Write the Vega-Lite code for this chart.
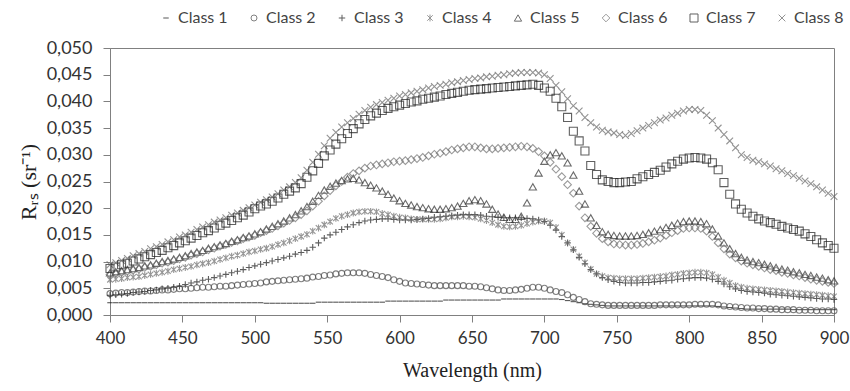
{
"$schema":"https://vega.github.io/schema/vega-lite/v6.json",
"width":724,"height":267,
"autosize":{"type":"none"},
"padding":{"left":110,"top":48,"right":16,"bottom":76},
"background":"white",
"config":{
"locale":{"number":{"decimal":",","thousands":".","grouping":[3],"currency":["","€"]}},
"view":{"stroke":"#808080","strokeWidth":1},
"axis":{"domainColor":"#808080","tickColor":"#808080","grid":false,"labelFont":"Lato","labelFontSize":17,"labelColor":"#333333","titleFont":"Liberation Serif, Times New Roman, serif","titleFontSize":20,"titleFontWeight":"normal","titleColor":"#222222","tickSize":7,"labelFlush":false}
},
"data":{"values":[
{"w":400,"c1":0.0023,"c2":0.0040,"c3":0.0037,"c4":0.0066,"c5":0.0079,"c6":0.0076,"c7":0.0087,"c8":0.0094},
{"w":404,"c1":0.0023,"c2":0.0041,"c3":0.0038,"c4":0.0067,"c5":0.0081,"c6":0.0078,"c7":0.0090,"c8":0.0098},
{"w":408,"c1":0.0023,"c2":0.0042,"c3":0.0039,"c4":0.0068,"c5":0.0083,"c6":0.0080,"c7":0.0094,"c8":0.0102},
{"w":412,"c1":0.0023,"c2":0.0042,"c3":0.0040,"c4":0.0070,"c5":0.0085,"c6":0.0082,"c7":0.0097,"c8":0.0106},
{"w":416,"c1":0.0023,"c2":0.0043,"c3":0.0042,"c4":0.0071,"c5":0.0087,"c6":0.0084,"c7":0.0101,"c8":0.0111},
{"w":420,"c1":0.0023,"c2":0.0044,"c3":0.0043,"c4":0.0072,"c5":0.0089,"c6":0.0086,"c7":0.0105,"c8":0.0115},
{"w":424,"c1":0.0023,"c2":0.0045,"c3":0.0044,"c4":0.0074,"c5":0.0092,"c6":0.0089,"c7":0.0109,"c8":0.0119},
{"w":428,"c1":0.0023,"c2":0.0045,"c3":0.0046,"c4":0.0076,"c5":0.0094,"c6":0.0091,"c7":0.0113,"c8":0.0124},
{"w":432,"c1":0.0023,"c2":0.0046,"c3":0.0047,"c4":0.0078,"c5":0.0097,"c6":0.0094,"c7":0.0117,"c8":0.0128},
{"w":436,"c1":0.0023,"c2":0.0047,"c3":0.0049,"c4":0.0080,"c5":0.0100,"c6":0.0097,"c7":0.0121,"c8":0.0132},
{"w":440,"c1":0.0023,"c2":0.0047,"c3":0.0050,"c4":0.0082,"c5":0.0102,"c6":0.0099,"c7":0.0126,"c8":0.0137},
{"w":444,"c1":0.0023,"c2":0.0048,"c3":0.0052,"c4":0.0085,"c5":0.0105,"c6":0.0102,"c7":0.0130,"c8":0.0141},
{"w":448,"c1":0.0023,"c2":0.0049,"c3":0.0054,"c4":0.0087,"c5":0.0108,"c6":0.0105,"c7":0.0135,"c8":0.0146},
{"w":452,"c1":0.0023,"c2":0.0049,"c3":0.0057,"c4":0.0089,"c5":0.0111,"c6":0.0108,"c7":0.0139,"c8":0.0150},
{"w":456,"c1":0.0023,"c2":0.0050,"c3":0.0060,"c4":0.0091,"c5":0.0115,"c6":0.0112,"c7":0.0144,"c8":0.0155},
{"w":460,"c1":0.0023,"c2":0.0051,"c3":0.0062,"c4":0.0094,"c5":0.0118,"c6":0.0115,"c7":0.0149,"c8":0.0160},
{"w":464,"c1":0.0023,"c2":0.0052,"c3":0.0065,"c4":0.0096,"c5":0.0121,"c6":0.0118,"c7":0.0154,"c8":0.0165},
{"w":468,"c1":0.0023,"c2":0.0052,"c3":0.0067,"c4":0.0098,"c5":0.0125,"c6":0.0122,"c7":0.0158,"c8":0.0169},
{"w":472,"c1":0.0023,"c2":0.0053,"c3":0.0070,"c4":0.0101,"c5":0.0128,"c6":0.0125,"c7":0.0163,"c8":0.0174},
{"w":476,"c1":0.0023,"c2":0.0054,"c3":0.0073,"c4":0.0104,"c5":0.0131,"c6":0.0129,"c7":0.0168,"c8":0.0178},
{"w":480,"c1":0.0023,"c2":0.0054,"c3":0.0076,"c4":0.0107,"c5":0.0134,"c6":0.0132,"c7":0.0172,"c8":0.0182},
{"w":484,"c1":0.0023,"c2":0.0055,"c3":0.0079,"c4":0.0110,"c5":0.0138,"c6":0.0136,"c7":0.0177,"c8":0.0187},
{"w":488,"c1":0.0023,"c2":0.0056,"c3":0.0082,"c4":0.0112,"c5":0.0141,"c6":0.0139,"c7":0.0182,"c8":0.0191},
{"w":492,"c1":0.0023,"c2":0.0057,"c3":0.0085,"c4":0.0115,"c5":0.0145,"c6":0.0143,"c7":0.0187,"c8":0.0196},
{"w":496,"c1":0.0023,"c2":0.0058,"c3":0.0089,"c4":0.0118,"c5":0.0148,"c6":0.0146,"c7":0.0193,"c8":0.0201},
{"w":500,"c1":0.0023,"c2":0.0059,"c3":0.0092,"c4":0.0120,"c5":0.0152,"c6":0.0149,"c7":0.0199,"c8":0.0206},
{"w":504,"c1":0.0023,"c2":0.0060,"c3":0.0095,"c4":0.0123,"c5":0.0156,"c6":0.0154,"c7":0.0204,"c8":0.0211},
{"w":508,"c1":0.0022,"c2":0.0062,"c3":0.0098,"c4":0.0125,"c5":0.0161,"c6":0.0158,"c7":0.0208,"c8":0.0216},
{"w":512,"c1":0.0022,"c2":0.0063,"c3":0.0101,"c4":0.0128,"c5":0.0166,"c6":0.0162,"c7":0.0213,"c8":0.0221},
{"w":516,"c1":0.0022,"c2":0.0064,"c3":0.0104,"c4":0.0132,"c5":0.0171,"c6":0.0167,"c7":0.0219,"c8":0.0227},
{"w":520,"c1":0.0022,"c2":0.0065,"c3":0.0107,"c4":0.0135,"c5":0.0176,"c6":0.0172,"c7":0.0226,"c8":0.0234},
{"w":524,"c1":0.0022,"c2":0.0066,"c3":0.0110,"c4":0.0139,"c5":0.0182,"c6":0.0177,"c7":0.0232,"c8":0.0240},
{"w":528,"c1":0.0022,"c2":0.0067,"c3":0.0114,"c4":0.0143,"c5":0.0188,"c6":0.0182,"c7":0.0238,"c8":0.0248},
{"w":532,"c1":0.0022,"c2":0.0068,"c3":0.0117,"c4":0.0147,"c5":0.0195,"c6":0.0188,"c7":0.0246,"c8":0.0257},
{"w":536,"c1":0.0022,"c2":0.0069,"c3":0.0121,"c4":0.0151,"c5":0.0203,"c6":0.0195,"c7":0.0258,"c8":0.0271},
{"w":540,"c1":0.0022,"c2":0.0071,"c3":0.0127,"c4":0.0157,"c5":0.0213,"c6":0.0204,"c7":0.0270,"c8":0.0286},
{"w":544,"c1":0.0024,"c2":0.0072,"c3":0.0135,"c4":0.0163,"c5":0.0224,"c6":0.0213,"c7":0.0284,"c8":0.0301},
{"w":548,"c1":0.0024,"c2":0.0074,"c3":0.0144,"c4":0.0169,"c5":0.0234,"c6":0.0223,"c7":0.0298,"c8":0.0317},
{"w":552,"c1":0.0024,"c2":0.0075,"c3":0.0150,"c4":0.0175,"c5":0.0241,"c6":0.0233,"c7":0.0309,"c8":0.0331},
{"w":556,"c1":0.0024,"c2":0.0077,"c3":0.0155,"c4":0.0181,"c5":0.0247,"c6":0.0242,"c7":0.0320,"c8":0.0342},
{"w":560,"c1":0.0024,"c2":0.0078,"c3":0.0160,"c4":0.0185,"c5":0.0252,"c6":0.0250,"c7":0.0330,"c8":0.0352},
{"w":564,"c1":0.0024,"c2":0.0079,"c3":0.0165,"c4":0.0188,"c5":0.0255,"c6":0.0258,"c7":0.0340,"c8":0.0360},
{"w":568,"c1":0.0024,"c2":0.0079,"c3":0.0169,"c4":0.0191,"c5":0.0256,"c6":0.0265,"c7":0.0349,"c8":0.0368},
{"w":572,"c1":0.0024,"c2":0.0079,"c3":0.0173,"c4":0.0193,"c5":0.0253,"c6":0.0270,"c7":0.0358,"c8":0.0376},
{"w":576,"c1":0.0024,"c2":0.0078,"c3":0.0176,"c4":0.0194,"c5":0.0248,"c6":0.0275,"c7":0.0366,"c8":0.0383},
{"w":580,"c1":0.0024,"c2":0.0076,"c3":0.0178,"c4":0.0194,"c5":0.0243,"c6":0.0279,"c7":0.0373,"c8":0.0389},
{"w":584,"c1":0.0024,"c2":0.0074,"c3":0.0179,"c4":0.0193,"c5":0.0238,"c6":0.0281,"c7":0.0378,"c8":0.0394},
{"w":588,"c1":0.0024,"c2":0.0072,"c3":0.0180,"c4":0.0190,"c5":0.0232,"c6":0.0283,"c7":0.0383,"c8":0.0398},
{"w":592,"c1":0.0026,"c2":0.0070,"c3":0.0180,"c4":0.0188,"c5":0.0226,"c6":0.0285,"c7":0.0387,"c8":0.0402},
{"w":596,"c1":0.0026,"c2":0.0066,"c3":0.0179,"c4":0.0185,"c5":0.0219,"c6":0.0287,"c7":0.0390,"c8":0.0406},
{"w":600,"c1":0.0026,"c2":0.0063,"c3":0.0178,"c4":0.0183,"c5":0.0214,"c6":0.0288,"c7":0.0393,"c8":0.0410},
{"w":604,"c1":0.0026,"c2":0.0060,"c3":0.0178,"c4":0.0182,"c5":0.0209,"c6":0.0289,"c7":0.0396,"c8":0.0413},
{"w":608,"c1":0.0026,"c2":0.0059,"c3":0.0178,"c4":0.0180,"c5":0.0206,"c6":0.0291,"c7":0.0399,"c8":0.0416},
{"w":612,"c1":0.0026,"c2":0.0058,"c3":0.0179,"c4":0.0179,"c5":0.0203,"c6":0.0293,"c7":0.0401,"c8":0.0419},
{"w":616,"c1":0.0026,"c2":0.0057,"c3":0.0180,"c4":0.0179,"c5":0.0201,"c6":0.0295,"c7":0.0404,"c8":0.0422},
{"w":620,"c1":0.0026,"c2":0.0056,"c3":0.0181,"c4":0.0179,"c5":0.0199,"c6":0.0298,"c7":0.0406,"c8":0.0425},
{"w":624,"c1":0.0026,"c2":0.0055,"c3":0.0183,"c4":0.0179,"c5":0.0198,"c6":0.0301,"c7":0.0408,"c8":0.0428},
{"w":628,"c1":0.0026,"c2":0.0055,"c3":0.0184,"c4":0.0180,"c5":0.0198,"c6":0.0303,"c7":0.0410,"c8":0.0430},
{"w":632,"c1":0.0028,"c2":0.0055,"c3":0.0185,"c4":0.0182,"c5":0.0199,"c6":0.0306,"c7":0.0413,"c8":0.0432},
{"w":636,"c1":0.0028,"c2":0.0055,"c3":0.0186,"c4":0.0184,"c5":0.0201,"c6":0.0309,"c7":0.0415,"c8":0.0435},
{"w":640,"c1":0.0028,"c2":0.0055,"c3":0.0187,"c4":0.0184,"c5":0.0204,"c6":0.0311,"c7":0.0417,"c8":0.0437},
{"w":644,"c1":0.0028,"c2":0.0055,"c3":0.0188,"c4":0.0185,"c5":0.0209,"c6":0.0313,"c7":0.0419,"c8":0.0439},
{"w":648,"c1":0.0028,"c2":0.0054,"c3":0.0188,"c4":0.0184,"c5":0.0214,"c6":0.0315,"c7":0.0421,"c8":0.0441},
{"w":652,"c1":0.0028,"c2":0.0054,"c3":0.0188,"c4":0.0183,"c5":0.0216,"c6":0.0315,"c7":0.0422,"c8":0.0443},
{"w":656,"c1":0.0028,"c2":0.0053,"c3":0.0187,"c4":0.0180,"c5":0.0214,"c6":0.0313,"c7":0.0423,"c8":0.0444},
{"w":660,"c1":0.0028,"c2":0.0051,"c3":0.0185,"c4":0.0177,"c5":0.0208,"c6":0.0311,"c7":0.0424,"c8":0.0446},
{"w":664,"c1":0.0028,"c2":0.0049,"c3":0.0184,"c4":0.0173,"c5":0.0198,"c6":0.0311,"c7":0.0425,"c8":0.0447},
{"w":668,"c1":0.0028,"c2":0.0047,"c3":0.0183,"c4":0.0169,"c5":0.0189,"c6":0.0312,"c7":0.0426,"c8":0.0449},
{"w":672,"c1":0.0030,"c2":0.0046,"c3":0.0182,"c4":0.0166,"c5":0.0183,"c6":0.0313,"c7":0.0427,"c8":0.0450},
{"w":676,"c1":0.0030,"c2":0.0046,"c3":0.0182,"c4":0.0165,"c5":0.0179,"c6":0.0314,"c7":0.0428,"c8":0.0452},
{"w":680,"c1":0.0030,"c2":0.0047,"c3":0.0182,"c4":0.0166,"c5":0.0179,"c6":0.0315,"c7":0.0429,"c8":0.0453},
{"w":684,"c1":0.0030,"c2":0.0048,"c3":0.0182,"c4":0.0168,"c5":0.0185,"c6":0.0316,"c7":0.0430,"c8":0.0454},
{"w":688,"c1":0.0030,"c2":0.0050,"c3":0.0181,"c4":0.0171,"c5":0.0210,"c6":0.0315,"c7":0.0431,"c8":0.0454},
{"w":692,"c1":0.0030,"c2":0.0052,"c3":0.0180,"c4":0.0174,"c5":0.0240,"c6":0.0312,"c7":0.0432,"c8":0.0454},
{"w":696,"c1":0.0030,"c2":0.0052,"c3":0.0178,"c4":0.0176,"c5":0.0266,"c6":0.0306,"c7":0.0430,"c8":0.0453},
{"w":700,"c1":0.0030,"c2":0.0050,"c3":0.0175,"c4":0.0176,"c5":0.0288,"c6":0.0298,"c7":0.0425,"c8":0.0450},
{"w":704,"c1":0.0030,"c2":0.0047,"c3":0.0168,"c4":0.0173,"c5":0.0300,"c6":0.0286,"c7":0.0419,"c8":0.0443},
{"w":708,"c1":0.0030,"c2":0.0044,"c3":0.0159,"c4":0.0164,"c5":0.0304,"c6":0.0273,"c7":0.0406,"c8":0.0430},
{"w":712,"c1":0.0029,"c2":0.0042,"c3":0.0147,"c4":0.0150,"c5":0.0298,"c6":0.0259,"c7":0.0390,"c8":0.0418},
{"w":716,"c1":0.0027,"c2":0.0038,"c3":0.0135,"c4":0.0135,"c5":0.0285,"c6":0.0244,"c7":0.0370,"c8":0.0405},
{"w":720,"c1":0.0025,"c2":0.0033,"c3":0.0122,"c4":0.0123,"c5":0.0262,"c6":0.0228,"c7":0.0344,"c8":0.0392},
{"w":724,"c1":0.0023,"c2":0.0029,"c3":0.0108,"c4":0.0110,"c5":0.0232,"c6":0.0204,"c7":0.0326,"c8":0.0382},
{"w":728,"c1":0.0021,"c2":0.0025,"c3":0.0096,"c4":0.0098,"c5":0.0208,"c6":0.0182,"c7":0.0307,"c8":0.0370},
{"w":732,"c1":0.0020,"c2":0.0021,"c3":0.0085,"c4":0.0086,"c5":0.0182,"c6":0.0166,"c7":0.0280,"c8":0.0360},
{"w":736,"c1":0.0019,"c2":0.0020,"c3":0.0077,"c4":0.0077,"c5":0.0168,"c6":0.0153,"c7":0.0263,"c8":0.0352},
{"w":740,"c1":0.0018,"c2":0.0019,"c3":0.0070,"c4":0.0073,"c5":0.0156,"c6":0.0143,"c7":0.0253,"c8":0.0346},
{"w":744,"c1":0.0017,"c2":0.0018,"c3":0.0066,"c4":0.0070,"c5":0.0151,"c6":0.0137,"c7":0.0250,"c8":0.0343},
{"w":748,"c1":0.0017,"c2":0.0018,"c3":0.0063,"c4":0.0069,"c5":0.0149,"c6":0.0133,"c7":0.0248,"c8":0.0341},
{"w":752,"c1":0.0017,"c2":0.0018,"c3":0.0061,"c4":0.0068,"c5":0.0148,"c6":0.0132,"c7":0.0248,"c8":0.0338},
{"w":756,"c1":0.0017,"c2":0.0018,"c3":0.0060,"c4":0.0068,"c5":0.0148,"c6":0.0131,"c7":0.0249,"c8":0.0336},
{"w":760,"c1":0.0017,"c2":0.0018,"c3":0.0060,"c4":0.0068,"c5":0.0148,"c6":0.0131,"c7":0.0250,"c8":0.0340},
{"w":764,"c1":0.0017,"c2":0.0018,"c3":0.0060,"c4":0.0068,"c5":0.0149,"c6":0.0132,"c7":0.0255,"c8":0.0345},
{"w":768,"c1":0.0017,"c2":0.0018,"c3":0.0061,"c4":0.0069,"c5":0.0151,"c6":0.0134,"c7":0.0259,"c8":0.0350},
{"w":772,"c1":0.0017,"c2":0.0018,"c3":0.0061,"c4":0.0070,"c5":0.0154,"c6":0.0137,"c7":0.0263,"c8":0.0355},
{"w":776,"c1":0.0017,"c2":0.0018,"c3":0.0062,"c4":0.0071,"c5":0.0157,"c6":0.0140,"c7":0.0267,"c8":0.0360},
{"w":780,"c1":0.0017,"c2":0.0019,"c3":0.0063,"c4":0.0072,"c5":0.0160,"c6":0.0144,"c7":0.0271,"c8":0.0365},
{"w":784,"c1":0.0017,"c2":0.0019,"c3":0.0064,"c4":0.0073,"c5":0.0164,"c6":0.0149,"c7":0.0277,"c8":0.0369},
{"w":788,"c1":0.0017,"c2":0.0019,"c3":0.0065,"c4":0.0075,"c5":0.0168,"c6":0.0154,"c7":0.0283,"c8":0.0374},
{"w":792,"c1":0.0017,"c2":0.0019,"c3":0.0067,"c4":0.0076,"c5":0.0172,"c6":0.0158,"c7":0.0288,"c8":0.0378},
{"w":796,"c1":0.0017,"c2":0.0019,"c3":0.0068,"c4":0.0078,"c5":0.0175,"c6":0.0162,"c7":0.0292,"c8":0.0382},
{"w":800,"c1":0.0017,"c2":0.0019,"c3":0.0069,"c4":0.0079,"c5":0.0176,"c6":0.0163,"c7":0.0294,"c8":0.0385},
{"w":804,"c1":0.0017,"c2":0.0020,"c3":0.0070,"c4":0.0080,"c5":0.0176,"c6":0.0163,"c7":0.0295,"c8":0.0385},
{"w":808,"c1":0.0017,"c2":0.0020,"c3":0.0070,"c4":0.0080,"c5":0.0175,"c6":0.0162,"c7":0.0294,"c8":0.0383},
{"w":812,"c1":0.0017,"c2":0.0020,"c3":0.0069,"c4":0.0079,"c5":0.0171,"c6":0.0157,"c7":0.0292,"c8":0.0374},
{"w":816,"c1":0.0017,"c2":0.0020,"c3":0.0067,"c4":0.0076,"c5":0.0161,"c6":0.0147,"c7":0.0285,"c8":0.0364},
{"w":820,"c1":0.0016,"c2":0.0019,"c3":0.0063,"c4":0.0071,"c5":0.0148,"c6":0.0135,"c7":0.0272,"c8":0.0350},
{"w":824,"c1":0.0015,"c2":0.0017,"c3":0.0058,"c4":0.0065,"c5":0.0135,"c6":0.0124,"c7":0.0248,"c8":0.0338},
{"w":828,"c1":0.0014,"c2":0.0016,"c3":0.0053,"c4":0.0060,"c5":0.0124,"c6":0.0114,"c7":0.0226,"c8":0.0326},
{"w":832,"c1":0.0013,"c2":0.0015,"c3":0.0049,"c4":0.0055,"c5":0.0115,"c6":0.0107,"c7":0.0208,"c8":0.0313},
{"w":836,"c1":0.0012,"c2":0.0014,"c3":0.0046,"c4":0.0052,"c5":0.0108,"c6":0.0101,"c7":0.0198,"c8":0.0300},
{"w":840,"c1":0.0011,"c2":0.0013,"c3":0.0044,"c4":0.0050,"c5":0.0103,"c6":0.0097,"c7":0.0191,"c8":0.0295},
{"w":844,"c1":0.0011,"c2":0.0013,"c3":0.0043,"c4":0.0049,"c5":0.0100,"c6":0.0094,"c7":0.0185,"c8":0.0290},
{"w":848,"c1":0.0011,"c2":0.0012,"c3":0.0042,"c4":0.0048,"c5":0.0098,"c6":0.0091,"c7":0.0180,"c8":0.0287},
{"w":852,"c1":0.0011,"c2":0.0012,"c3":0.0041,"c4":0.0047,"c5":0.0095,"c6":0.0088,"c7":0.0176,"c8":0.0283},
{"w":856,"c1":0.0011,"c2":0.0011,"c3":0.0039,"c4":0.0046,"c5":0.0092,"c6":0.0085,"c7":0.0173,"c8":0.0279},
{"w":860,"c1":0.0011,"c2":0.0011,"c3":0.0038,"c4":0.0045,"c5":0.0089,"c6":0.0083,"c7":0.0170,"c8":0.0274},
{"w":864,"c1":0.0011,"c2":0.0010,"c3":0.0037,"c4":0.0044,"c5":0.0086,"c6":0.0080,"c7":0.0166,"c8":0.0270},
{"w":868,"c1":0.0011,"c2":0.0010,"c3":0.0036,"c4":0.0043,"c5":0.0084,"c6":0.0078,"c7":0.0163,"c8":0.0265},
{"w":872,"c1":0.0010,"c2":0.0010,"c3":0.0035,"c4":0.0042,"c5":0.0081,"c6":0.0075,"c7":0.0160,"c8":0.0261},
{"w":876,"c1":0.0010,"c2":0.0009,"c3":0.0034,"c4":0.0041,"c5":0.0079,"c6":0.0073,"c7":0.0157,"c8":0.0256},
{"w":880,"c1":0.0010,"c2":0.0009,"c3":0.0033,"c4":0.0040,"c5":0.0076,"c6":0.0070,"c7":0.0152,"c8":0.0251},
{"w":884,"c1":0.0010,"c2":0.0009,"c3":0.0032,"c4":0.0039,"c5":0.0074,"c6":0.0067,"c7":0.0147,"c8":0.0246},
{"w":888,"c1":0.0010,"c2":0.0008,"c3":0.0031,"c4":0.0038,"c5":0.0071,"c6":0.0065,"c7":0.0141,"c8":0.0240},
{"w":892,"c1":0.0010,"c2":0.0008,"c3":0.0030,"c4":0.0037,"c5":0.0069,"c6":0.0063,"c7":0.0135,"c8":0.0234},
{"w":896,"c1":0.0010,"c2":0.0008,"c3":0.0030,"c4":0.0036,"c5":0.0066,"c6":0.0061,"c7":0.0130,"c8":0.0228},
{"w":900,"c1":0.0010,"c2":0.0008,"c3":0.0029,"c4":0.0035,"c5":0.0064,"c6":0.0059,"c7":0.0125,"c8":0.0222}
]},
"transform":[{"fold":["c1","c2","c3","c4","c5","c6","c7","c8"],"as":["cls","rrs"]}],
"mark":{"type":"point","filled":false,"strokeWidth":1.1,"clip":false},
"encoding":{
"x":{"field":"w","type":"quantitative","scale":{"domain":[400,900],"nice":false,"zero":false},
"axis":{"values":[400,450,500,550,600,650,700,750,800,850,900],"format":"d","title":"Wavelength (nm)","labelFlush":false,"labelPadding":8,"titlePadding":14,"titleFont":"Liberation Serif, Times New Roman, serif"}},
"y":{"field":"rrs","type":"quantitative","scale":{"domain":[0,0.05],"nice":false},
"axis":{"values":[0,0.005,0.01,0.015,0.02,0.025,0.03,0.035,0.04,0.045,0.05],"format":".3f","title":"Rᵣₛ (sr⁻¹)","labelFlush":false,"labelFontSize":18,"labelPadding":11,"titlePadding":6,"titleFontSize":22,"titleFont":"Liberation Serif, Times New Roman, serif"}},
"shape":{"field":"cls","type":"nominal","scale":{"domain":["c1","c2","c3","c4","c5","c6","c7","c8"],
"range":["M-1,0H1","circle","M-1,0H1M0,-1V1","M-0.8,-0.8L0.8,0.8M-0.8,0.8L0.8,-0.8M0,-1V1","triangle-up","diamond","square","M-0.8,-0.8L0.8,0.8M-0.8,0.8L0.8,-0.8"]},
"legend":{"title":null,"orient":"none","legendX":48,"legendY":-38,"direction":"horizontal","columns":8,"labelExpr":"'Class ' + substring(datum.label, 1)","labelFont":"Lato","labelFontSize":16,"labelColor":"#444444","labelOffset":4,"symbolSize":50,"symbolStrokeWidth":1,"symbolStrokeColor":"#555555","columnPadding":18}},
"color":{"field":"cls","type":"nominal","scale":{"domain":["c1","c2","c3","c4","c5","c6","c7","c8"],
"range":["#111111","#4d4d4d","#1a1a1a","#6a6a6a","#2e2e2e","#707070","#1e1e1e","#666666"]},
"legend":{"title":null,"orient":"none","legendX":48,"legendY":-38,"direction":"horizontal","columns":8,"labelExpr":"'Class ' + substring(datum.label, 1)","labelFont":"Lato","labelFontSize":16,"labelColor":"#444444","labelOffset":4,"symbolSize":50,"symbolStrokeWidth":1,"symbolStrokeColor":"#555555","columnPadding":18}},
"size":{"field":"cls","type":"nominal","scale":{"domain":["c1","c2","c3","c4","c5","c6","c7","c8"],"range":[30,70,90,90,80,65,80,90]},"legend":null}
}
}
